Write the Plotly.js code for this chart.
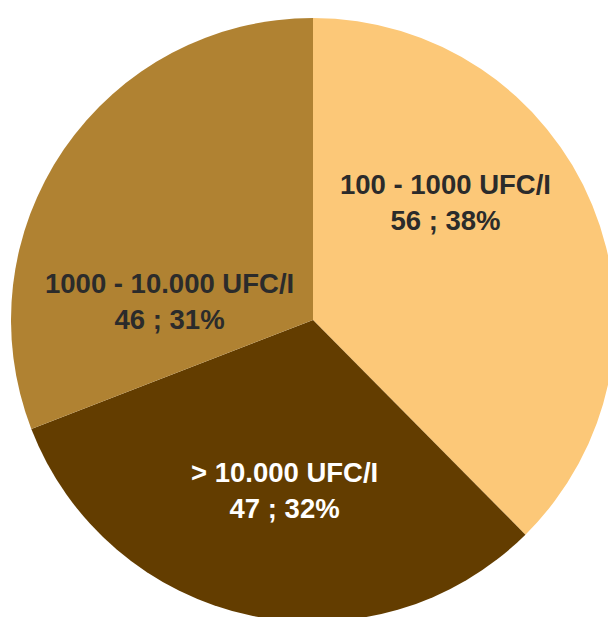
<!DOCTYPE html>
<html>
<head>
<meta charset="utf-8">
<script src="https://cdn.plot.ly/plotly-3.0.1.min.js"></script>
<style>
  html, body { margin: 0; padding: 0; overflow: hidden; background: #ffffff; }
  #chart { width: 626px; height: 640px; }
</style>
</head>
<body>
<div id="chart"></div>
<script>
// Data
const categories = ["100 - 1000 UFC/I", "> 10.000 UFC/I", "1000 - 10.000 UFC/I"];
const counts = [56, 47, 46];
const sliceColors = ["#FCC878", "#633D00", "#B08232"];
const labelColors = ["#2B2B2B", "#FFFFFF", "#2B2B2B"];
// label centres in pixel space of the 626x640 plotting area
const labelPx = [[445, 202], [284, 490], [170, 301]];

const W = 626, H = 640;
const total = counts.reduce((a, b) => a + b, 0);

const trace = {
  type: "pie",
  labels: categories,
  values: counts,
  sort: false,
  direction: "clockwise",
  rotation: 0,
  marker: { colors: sliceColors, line: { width: 0 } },
  textinfo: "none",
  hoverinfo: "none",
  showlegend: false,
  domain: { x: [11 / W, 615 / W], y: [(H - 622) / H, (H - 18) / H] }
};

const annotations = categories.map((c, i) => ({
  xref: "paper", yref: "paper",
  x: labelPx[i][0] / W, y: 1 - labelPx[i][1] / H,
  xanchor: "center", yanchor: "middle",
  showarrow: false,
  align: "center",
  text: "<b>" + c + "<br>" + counts[i] + " ; " + Math.round(100 * counts[i] / total) + "%</b>",
  font: { family: "Liberation Sans, Arial, sans-serif", size: 27.5, color: labelColors[i] }
}));

Plotly.newPlot("chart", [trace], {
  width: W, height: H,
  margin: { l: 0, r: 0, t: 0, b: 0 },
  paper_bgcolor: "#ffffff",
  plot_bgcolor: "#ffffff",
  annotations: annotations
}, { displayModeBar: false, staticPlot: true });
</script>
</body>
</html>
